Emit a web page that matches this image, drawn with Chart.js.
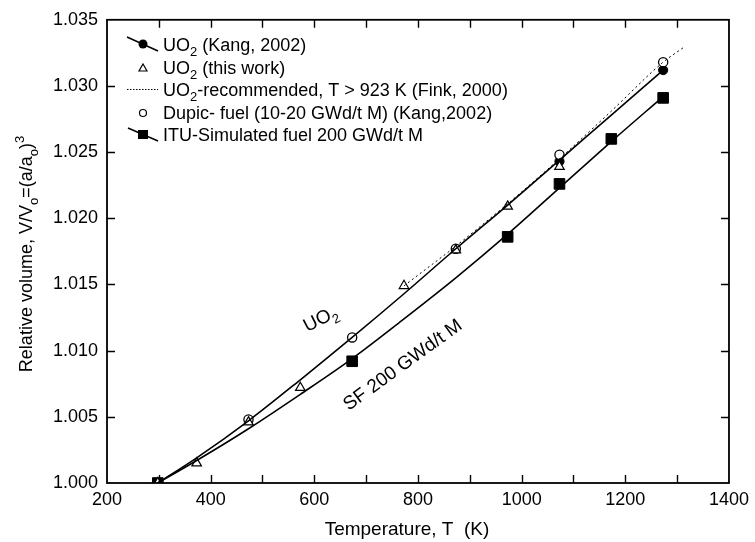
<!DOCTYPE html>
<html>
<head>
<meta charset="utf-8">
<title>Relative volume vs temperature</title>
<script src="https://cdn.jsdelivr.net/npm/chart.js@4.4.1/dist/chart.umd.min.js"></script>
<style>
  html, body { margin: 0; padding: 0; background: #fff; }
  #wrap { width: 755px; height: 542px; }
</style>
</head>
<body>
<div id="wrap"><canvas id="chart" width="755" height="542"></canvas></div>
<script>
/* ---------- data ---------- */

// fitted curves
const uo2FitT = [298, 373, 473, 573, 673, 773, 873, 973, 1073, 1173, 1273];
const uo2FitV = [1.0000, 1.0019, 1.0047, 1.0078, 1.0110, 1.0143, 1.0177, 1.0210, 1.0244, 1.0278, 1.0312];
const sfFitT = [298, 373, 473, 573, 673, 773, 873, 973, 1073, 1173, 1273];
const sfFitV = [1.0000, 1.0017, 1.0041, 1.0067, 1.0094, 1.0124, 1.0155, 1.0188, 1.0223, 1.0258, 1.0292];

// UO2 (Kang, 2002) - filled circles
const kangT = [1073, 1273];
const kangV = [1.0243, 1.0312];

// UO2 (this work) - open triangles
const thisWorkT = [298, 373, 473, 573, 773, 873, 973, 1073];
const thisWorkV = [1.0000, 1.0015, 1.0046, 1.0072, 1.0149, 1.0176, 1.0209, 1.0239];

// UO2 recommended, T > 923 K (Fink, 2000) - dotted
const finkT = [773, 873, 973, 1073, 1173, 1273, 1312];
const finkV = [1.0149, 1.0179, 1.0211, 1.0245, 1.0281, 1.0318, 1.0329];

// Dupic fuel (Kang, 2002) - open circles
const dupicT = [473, 673, 873, 1073, 1273];
const dupicV = [1.0048, 1.0110, 1.0177, 1.0248, 1.0318];

// ITU simulated fuel 200 GWd/t M - filled squares
const ituT = [298, 673, 973, 1073, 1173, 1273];
const ituV = [1.0000, 1.0092, 1.0186, 1.0226, 1.0260, 1.0291];

const xTicks = [200, 400, 600, 800, 1000, 1200, 1400];
const yTicks = [1.000, 1.005, 1.010, 1.015, 1.020, 1.025, 1.030, 1.035];

const FONT = '"Liberation Sans", Arial, Helvetica, sans-serif';

/* ---------- helpers ---------- */

function pts(xs, ys) {
  return xs.map((x, i) => ({ x, y: ys[i] }));
}

// parts: [[text, ''|'sub'|'sup'], ...]
function richWidth(ctx, parts, size) {
  let w = 0;
  for (const [t, m] of parts) {
    ctx.font = (m ? Math.round(size * 0.7) : size) + 'px ' + FONT;
    w += ctx.measureText(t).width;
  }
  return w;
}

function drawRich(ctx, parts, x, y, size) {
  let cx = x;
  for (const [t, m] of parts) {
    ctx.font = (m ? Math.round(size * 0.7) : size) + 'px ' + FONT;
    const dy = m === 'sub' ? size * 0.28 : m === 'sup' ? -size * 0.45 : 0;
    ctx.fillText(t, cx, y + dy);
    cx += ctx.measureText(t).width;
  }
}

function drawRichCentered(ctx, parts, cx, cy, size, angle) {
  ctx.save();
  ctx.translate(cx, cy);
  ctx.rotate(angle);
  ctx.textBaseline = 'alphabetic';
  ctx.textAlign = 'left';
  const w = richWidth(ctx, parts, size);
  drawRich(ctx, parts, -w / 2, size * 0.36, size);
  ctx.restore();
}

/* ---------- plugin: frame, inward ticks, legend, labels ---------- */

const decorations = {
  id: 'decorations',
  beforeDraw(chart) {
    const ctx = chart.ctx;
    ctx.save();
    ctx.fillStyle = '#fff';
    ctx.fillRect(0, 0, chart.width, chart.height);
    ctx.restore();
  },
  afterDraw(chart) {
    const ctx = chart.ctx;
    const a = chart.chartArea;
    const xs = chart.scales.x, ys = chart.scales.y;
    ctx.save();
    ctx.strokeStyle = '#000';
    ctx.fillStyle = '#000';

    // frame
    ctx.lineWidth = 1.8;
    ctx.strokeRect(a.left, a.top, a.right - a.left, a.bottom - a.top);

    // inward tick marks
    ctx.lineWidth = 1.4;
    ctx.beginPath();
    for (let t = 300; t < 1400; t += 100) {
      const px = Math.round(xs.getPixelForValue(t)) + 0.5;
      ctx.moveTo(px, a.bottom); ctx.lineTo(px, a.bottom - 8);
      ctx.moveTo(px, a.top); ctx.lineTo(px, a.top + 8);
    }
    for (const v of yTicks.slice(1, -1)) {
      const py = Math.round(ys.getPixelForValue(v)) + 0.5;
      ctx.moveTo(a.left, py); ctx.lineTo(a.left + 8, py);
      ctx.moveTo(a.right, py); ctx.lineTo(a.right - 8, py);
    }
    ctx.stroke();

    // axis titles
    drawRichCentered(ctx, [['Temperature, T  (K)', '']], 407, 528, 19, 0);
    drawRichCentered(ctx, [
      ['Relative volume, V/V', ''], ['o', 'sub'], ['=(a/a', ''], ['o', 'sub'], [')', ''], ['3', 'sup']
    ], 26, 254, 18, -Math.PI / 2);

    // curve labels
    drawRichCentered(ctx, [['UO', ''], ['2', 'sub']], 320, 318, 19, -27 * Math.PI / 180);
    drawRichCentered(ctx, [['SF 200 GWd/t M', '']], 402, 364, 19, -36 * Math.PI / 180);

    // legend
    ctx.textBaseline = 'alphabetic';
    ctx.textAlign = 'left';
    const sx = 143, tx = 163, fs = 18;
    const rows = [
      [['UO', ''], ['2', 'sub'], [' (Kang, 2002)', '']],
      [['UO', ''], ['2', 'sub'], [' (this work)', '']],
      [['UO', ''], ['2', 'sub'], ['-recommended, T > 923 K (Fink, 2000)', '']],
      [['Dupic- fuel (10-20 GWd/t M) (Kang,2002)', '']],
      [['ITU-Simulated fuel 200 GWd/t M', '']]
    ];
    const baselines = [51, 74, 96, 119, 141];
    rows.forEach((r, i) => drawRich(ctx, r, tx, baselines[i], fs));

    // row 1: slanted line + filled circle
    ctx.lineWidth = 1.5;
    ctx.beginPath(); ctx.moveTo(127, 37); ctx.lineTo(158, 51); ctx.stroke();
    ctx.beginPath(); ctx.arc(sx, 44, 4.5, 0, Math.PI * 2); ctx.fill();
    // row 2: open triangle
    ctx.lineWidth = 1.2;
    ctx.beginPath(); ctx.moveTo(sx, 64); ctx.lineTo(sx + 4, 71); ctx.lineTo(sx - 4, 71); ctx.closePath(); ctx.stroke();
    // row 3: dotted line
    ctx.lineWidth = 1;
    ctx.setLineDash([1.5, 1.5]);
    ctx.beginPath(); ctx.moveTo(127, 89.5); ctx.lineTo(158, 89.5); ctx.stroke();
    ctx.setLineDash([]);
    // row 4: open circle
    ctx.lineWidth = 1.2;
    ctx.beginPath(); ctx.arc(sx, 113, 3.5, 0, Math.PI * 2); ctx.stroke();
    // row 5: slanted line + filled square
    ctx.lineWidth = 1.5;
    ctx.beginPath(); ctx.moveTo(128, 128); ctx.lineTo(158, 141); ctx.stroke();
    ctx.fillRect(sx - 5, 130, 10, 9);

    ctx.restore();
  }
};

/* ---------- chart ---------- */

const ctx = document.getElementById('chart').getContext('2d');
new Chart(ctx, {
  type: 'scatter',
  data: {
    datasets: [
      {
        label: 'UO2 fit',
        data: pts(uo2FitT, uo2FitV),
        showLine: true,
        borderColor: '#000',
        borderWidth: 1.6,
        pointRadius: 0,
        cubicInterpolationMode: 'monotone'
      },
      {
        label: 'SF fit',
        data: pts(sfFitT, sfFitV),
        showLine: true,
        borderColor: '#000',
        borderWidth: 1.6,
        pointRadius: 0,
        cubicInterpolationMode: 'monotone'
      },
      {
        label: 'UO2 recommended (Fink, 2000)',
        data: pts(finkT, finkV),
        showLine: true,
        borderColor: '#000',
        borderWidth: 1,
        borderDash: [2, 3],
        pointRadius: 0,
        cubicInterpolationMode: 'monotone'
      },
      {
        label: 'UO2 (this work)',
        data: pts(thisWorkT, thisWorkV),
        pointStyle: 'triangle',
        pointRadius: 5.5,
        pointBorderWidth: 1.2,
        pointBorderColor: '#000',
        pointBackgroundColor: '#fff'
      },
      {
        label: 'Dupic fuel (Kang, 2002)',
        data: pts(dupicT, dupicV),
        pointStyle: 'circle',
        pointRadius: 4.6,
        pointBorderWidth: 1.3,
        pointBorderColor: '#000',
        pointBackgroundColor: '#fff'
      },
      {
        label: 'UO2 (Kang, 2002)',
        data: pts(kangT, kangV),
        pointStyle: 'circle',
        pointRadius: 4.6,
        pointBorderWidth: 1,
        pointBorderColor: '#000',
        pointBackgroundColor: '#000'
      },
      {
        label: 'ITU-Simulated fuel 200 GWd/t M',
        data: pts(ituT, ituV),
        pointStyle: 'rect',
        pointRadius: 7.5,
        pointBorderWidth: 1,
        pointBorderColor: '#000',
        pointBackgroundColor: '#000'
      }
    ]
  },
  options: {
    responsive: false,
    animation: false,
    events: [],
    layout: { padding: { left: 0, right: 20, top: 17, bottom: 0 } },
    plugins: {
      legend: { display: false },
      tooltip: { enabled: false }
    },
    scales: {
      x: {
        type: 'linear',
        min: 200,
        max: 1400,
        afterFit: s => { s.height = 59; },
        afterBuildTicks: s => { s.ticks = xTicks.map(v => ({ value: v })); },
        grid: { display: false, drawTicks: false },
        border: { display: false },
        ticks: {
          padding: 6,
          color: '#000',
          font: { family: FONT, size: 18 },
          maxRotation: 0,
          callback: v => String(v)
        }
      },
      y: {
        type: 'linear',
        min: 1.000,
        max: 1.035,
        afterFit: s => { s.width = 107; },
        afterBuildTicks: s => { s.ticks = yTicks.map(v => ({ value: v })); },
        grid: { display: false, drawTicks: false },
        border: { display: false },
        ticks: {
          padding: 9,
          color: '#000',
          font: { family: FONT, size: 18 },
          callback: v => Number(v).toFixed(3)
        }
      }
    }
  },
  plugins: [decorations]
});
</script>
</body>
</html>
